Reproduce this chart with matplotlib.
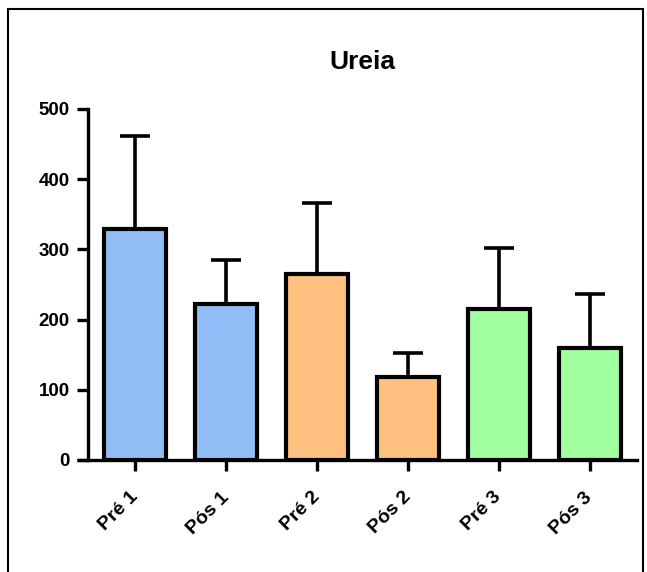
import matplotlib.pyplot as plt
from matplotlib.patches import Rectangle

plt.rcParams['font.family'] = ['Liberation Sans', 'DejaVu Sans']
plt.rcParams['font.weight'] = 'bold'

groups = ["Pré 1", "Pós 1", "Pré 2", "Pós 2", "Pré 3", "Pós 3"]
means = [329, 222, 265, 118, 215, 160]
sd = [132, 63, 101, 34, 87, 76]
colors = ["#92BEF8", "#92BEF8", "#FFC080", "#FFC080", "#A2FFA0", "#A2FFA0"]

fig = plt.figure(figsize=(6.47, 5.72), dpi=100)
ax = fig.add_axes([88 / 647, 1 - 460 / 572, 549 / 647, 351 / 572])

x = list(range(len(groups)))
ax.bar(x, means, width=0.68, color=colors, edgecolor="black", linewidth=3, zorder=3)
ax.errorbar(x, means, yerr=[[0] * len(sd), sd], fmt="none", ecolor="black",
            elinewidth=2.6, capsize=10.5, capthick=2.6, zorder=2)

ax.set_xlim(-0.52, 5.52)
ax.set_ylim(0, 500)
ax.set_yticks([0, 100, 200, 300, 400, 500])
ax.set_xticks(x)
ax.set_xticklabels(groups, rotation=45, ha="right", va="center",
                   rotation_mode="anchor", fontsize=14)

ax.spines["top"].set_visible(False)
ax.spines["right"].set_visible(False)
for s in ("left", "bottom"):
    ax.spines[s].set_linewidth(2.4)
ax.tick_params(axis="both", width=2.4, length=8)
ax.tick_params(axis="y", labelsize=13.5, pad=5)
ax.tick_params(axis="x", pad=17)

# baseline continues left under the y ticks
ax.plot([-11 / 549, 0], [0, 0], transform=ax.transAxes, color="black",
        linewidth=2.4, clip_on=False, solid_capstyle="butt")

ax.set_title("Ureia", fontsize=19, fontweight="bold", pad=29)

# outer frame
fig.patches.append(Rectangle((8 / 647, -0.05), 635 / 647, 1 - 9 / 572 + 0.05,
                             transform=fig.transFigure, fill=False,
                             edgecolor="black", linewidth=1.5))

fig.savefig("out.png", dpi=100)
